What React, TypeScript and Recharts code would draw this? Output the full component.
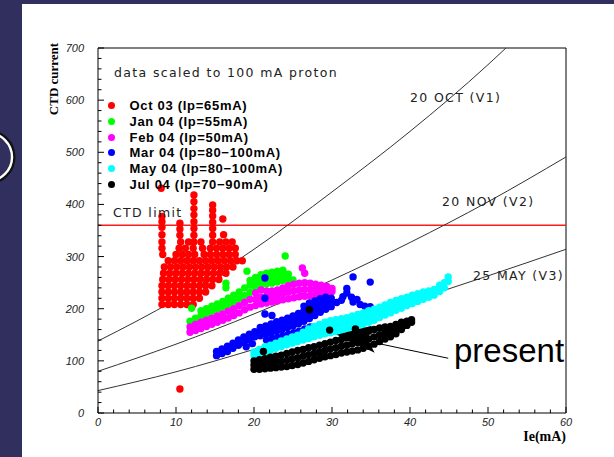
import React from 'react';
import {
  ComposedChart,
  Scatter,
  Line,
  XAxis,
  YAxis,
  ReferenceLine,
  ReferenceDot,
  Legend
} from 'recharts';

// axis ticks (major + minor)
const xTicks = [0, 2, 4, 6, 8, 10, 12, 14, 16, 18, 20, 22, 24, 26, 28, 30, 32, 34, 36, 38, 40, 42, 44, 46, 48, 50, 52, 54, 56, 58, 60];
const yTicks = [0, 20, 40, 60, 80, 100, 120, 140, 160, 180, 200, 220, 240, 260, 280, 300, 320, 340, 360, 380, 400, 420, 440, 460, 480, 500, 520, 540, 560, 580, 600, 620, 640, 660, 680, 700];

// CTD limit, flat across the whole range
const ctdLimit = [{ x: 0, y: 360 }, { x: 60, y: 360 }];

// voltage curves
const v1Curve = [
  { x: 0, y: 138 }, { x: 10, y: 218 }, { x: 20, y: 314 }, { x: 30, y: 424 },
  { x: 40, y: 540 }, { x: 50, y: 668 }, { x: 52.3, y: 700 }
];
const v2Curve = [
  { x: 0, y: 80 }, { x: 10, y: 132 }, { x: 20, y: 190 }, { x: 30, y: 255 },
  { x: 40, y: 327 }, { x: 50, y: 405 }, { x: 60, y: 491 }
];
const v3Curve = [
  { x: 0, y: 43 }, { x: 10, y: 79 }, { x: 20, y: 122 }, { x: 30, y: 168 },
  { x: 40, y: 214 }, { x: 50, y: 263 }, { x: 60, y: 314 }
];

// Oct 03: rows [y, xs]
const oct03Rows: [number, number[]][] = [
  [208, [8.2, 9.0, 9.8, 10.6, 11.4, 12.2]],
  [220, [8.2, 9.0, 9.8, 10.6, 11.4, 12.2, 13.0]],
  [232, [8.2, 9.0, 9.8, 10.6, 11.4, 12.2, 13.0, 13.8]],
  [244, [8.2, 9.0, 9.8, 10.6, 11.4, 12.2, 13.0, 13.8, 14.6]],
  [256, [8.3, 9.1, 9.9, 10.7, 11.5, 12.3, 13.1, 13.9, 14.7, 15.5]],
  [268, [8.4, 9.2, 10.0, 10.8, 11.6, 12.4, 13.2, 14.0, 14.8, 15.6, 16.4]],
  [280, [8.5, 9.3, 10.1, 10.9, 11.7, 12.5, 13.3, 14.1, 14.9, 15.7, 16.5, 17.3]],
  [292, [9.0, 9.8, 10.6, 11.4, 12.2, 13.0, 13.8, 14.6, 15.4, 16.2, 17.0, 17.8, 18.5]],
  [304, [8.3, 10.0, 10.8, 11.6, 12.4, 13.6, 14.4, 15.2, 16.0, 16.8, 17.6]],
  [316, [8.2, 10.4, 11.2, 12.2, 13.4, 14.4, 15.2, 16.0, 16.8, 17.6]],
  [328, [8.2, 10.6, 11.6, 12.3, 13.2, 14.7, 15.6, 16.4, 17.2]]
];
const oct03Spots: [number, number][] = [
  [8.2, 342], [8.2, 356], [8.2, 367], [8.2, 377], [8.1, 431],
  [10.5, 341], [10.5, 353], [10.5, 364],
  [12.3, 341], [12.3, 354], [12.3, 367], [12.3, 380], [12.3, 392], [12.3, 405], [12.3, 418],
  [14.7, 341], [14.7, 354], [14.7, 366], [14.7, 378], [14.7, 389], [14.7, 399],
  [16.0, 372], [16.1, 342], [10.5, 46]
];

// the other runs: columns [x, ys]
const jan04Cols: [number, number[]][] = [
  [11.8, [176]], [12.5, [182]], [13.2, [186, 196]], [13.9, [190, 200]], [14.6, [195, 205]],
  [15.3, [199, 209]], [16, [203, 214]], [16.7, [208, 220]], [17.4, [213, 226]], [18.1, [219, 232]],
  [18.8, [225, 240]], [19.5, [231, 245, 254]], [20.2, [240, 250, 260]], [20.9, [246, 256, 265]],
  [21.6, [248, 258, 268]], [22.3, [249, 260, 270]], [23, [251, 262, 272]], [23.7, [254, 264, 274]],
  [24.4, [256, 266]], [25, [255]]
];
const jan04Spots: [number, number][] = [[12, 201], [16.4, 249], [16.4, 240], [19.1, 272], [24, 301]];

const feb04Cols: [number, number[]][] = [
  [11.8, [155, 165]], [12.5, [158, 170]], [13.2, [162, 174]], [13.9, [166, 178]], [14.6, [170, 182]],
  [15.3, [174, 186]], [16, [178, 190]], [16.7, [182, 195]], [17.4, [187, 200]], [18.1, [192, 206]],
  [18.8, [198, 212]], [19.5, [203, 218]], [20.2, [206, 218, 230]], [20.9, [209, 222, 236]],
  [21.6, [211, 223, 234]], [22.3, [213, 224, 234]], [23, [215, 226, 236]], [23.7, [217, 229, 240]],
  [24.4, [219, 232, 244]], [25.1, [221, 234, 247]], [25.8, [223, 236, 249]], [26.5, [224, 237, 250]],
  [27.2, [225, 237, 249]], [27.9, [227, 237, 247]], [28.6, [229, 237, 245]], [29.3, [231, 237, 243]],
  [30, [233, 239]]
];
const feb04Spots: [number, number][] = [[26.2, 278], [26.5, 268]];

const mar04Cols: [number, number[]][] = [
  [15.2, [110, 118]], [15.9, [114, 123]], [16.6, [118, 128]], [17.3, [124, 134]], [18, [130, 140]],
  [18.7, [135, 146]], [19.4, [140, 151]], [20.1, [146, 156]],
  [20.8, [148, 156, 164]], [21.5, [151, 159, 167]], [22.2, [154, 162, 171]], [22.9, [157, 166, 175]],
  [23.6, [160, 169, 178]], [24.3, [164, 173, 182]], [25, [167, 177, 186]], [25.7, [171, 181, 191]],
  [26.4, [176, 186, 196, 205]], [27.1, [181, 191, 201, 211]], [27.8, [187, 197, 206, 215]],
  [28.5, [193, 203, 211, 219]], [29.2, [199, 208, 215, 222]], [29.9, [204, 212, 220]],
  [21.6, [140]], [22.3, [143]], [23, [145]], [23.7, [148]], [24.4, [151]], [25.1, [154]],
  [25.8, [157]], [26.5, [161]], [27.2, [165]]
];
const mar04Spots: [number, number][] = [
  [19, 127], [19.8, 133], [30.6, 212], [31.2, 216], [31.4, 223], [31.9, 230], [31.9, 239],
  [32.5, 222], [32.7, 213], [33.2, 218], [33.6, 208], [34.2, 205], [34.9, 204], [35.2, 198],
  [32.7, 261], [34.9, 251], [21.4, 259], [21.4, 220], [21.4, 190], [22.3, 187]
];

const may04Cols: [number, number[]][] = [
  [20, [110, 117]], [20.7, [113, 122]], [21.4, [117, 127]], [22.1, [120, 130]], [22.8, [124, 134]],
  [23.5, [127, 138]], [24.2, [131, 142]], [24.9, [134, 146]], [25.6, [137, 149]],
  [26.3, [140, 147, 155]], [27, [143, 152, 161]], [27.7, [146, 156, 166]], [28.4, [149, 159, 170]],
  [29.1, [152, 163, 174]], [29.8, [154, 166, 177]], [30.5, [156, 168, 179]], [31.2, [158, 170, 181]],
  [31.9, [161, 172, 183]], [32.6, [164, 175, 186]], [33.3, [167, 178, 189]], [34, [170, 181, 192]],
  [34.7, [174, 185, 196]], [35.4, [178, 189, 199]], [36.1, [183, 193, 203]], [36.8, [188, 198, 207]],
  [37.5, [192, 202, 212]], [38.2, [197, 207, 216]], [38.9, [201, 210, 219]], [39.6, [206, 214, 222]],
  [40.3, [210, 218, 226]], [41, [214, 222, 229]], [41.7, [218, 225, 232]], [42.4, [222, 228, 234]],
  [43.1, [226, 231, 237]], [43.8, [233, 240, 245]], [44.4, [240, 250]], [44.9, [252, 261]]
];

const jul04Cols: [number, number[]][] = [
  [20, [84, 92, 100]], [20.7, [84, 93, 102]], [21.4, [85, 95, 104]], [22.1, [86, 96, 107]],
  [22.8, [87, 98, 109]], [23.5, [88, 99, 111]], [24.2, [89, 101, 114]], [24.9, [91, 104, 117]],
  [25.6, [93, 106, 120]], [26.3, [96, 109, 122]], [27, [99, 112, 125]], [27.7, [102, 114, 127]],
  [28.4, [105, 117, 130]], [29.1, [108, 120, 133]], [29.8, [110, 123, 136]], [30.5, [112, 125, 139]],
  [31.2, [115, 128, 141]], [31.9, [117, 130, 144]], [32.6, [119, 133, 147]], [33.3, [121, 135, 150]],
  [34, [124, 138, 153]], [34.7, [128, 142, 157]], [35.4, [132, 146, 160]], [36.1, [137, 150, 163]],
  [36.8, [142, 154, 165]], [37.5, [146, 156, 166]], [38.2, [152, 162, 170]], [38.9, [160, 168, 174]],
  [39.6, [168, 176]], [40.2, [174, 179]]
];
const jul04Spots: [number, number][] = [[27.1, 198], [29.7, 159], [33, 161], [21.2, 118]];

const seriesNames = [
  'Oct 03 (Ip=65mA)', 'Jan 04 (Ip=55mA)', 'Feb 04 (Ip=50mA)',
  'Mar 04 (Ip=80\u2212100mA)', 'May 04 (Ip=80\u2212100mA)', 'Jul 04 (Ip=70\u221290mA)'
];
const seriesColors = ['#ff0000', '#00ff00', '#ff00ff', '#0000ff', '#00ffff', '#000000'];

const fromCols = (cols: [number, number[]][], spots: [number, number][] = []) => [
  ...cols.flatMap(([x, ys]) => ys.map((y) => ({ x, y }))),
  ...spots.map(([x, y]) => ({ x, y }))
];
const fromRows = (rows: [number, number[]][], spots: [number, number][] = []) => [
  ...rows.flatMap(([y, xs]) => xs.map((x) => ({ x, y }))),
  ...spots.map(([x, y]) => ({ x, y }))
];

const seriesData = [
  fromRows(oct03Rows, oct03Spots),
  fromCols(jan04Cols, jan04Spots),
  fromCols(feb04Cols, feb04Spots),
  fromCols(mar04Cols, mar04Spots),
  fromCols(may04Cols),
  fromCols(jul04Cols, jul04Spots)
];

const NAVY = '#302f5e';
const annoFont = '"DejaVu Sans", sans-serif';

const dot = (color: string) => (p: any) => <circle cx={p.cx} cy={p.cy} r={3.7} fill={color} />;

const YTick = (props: any) => {
  const { x, y, payload } = props;
  const major = payload.value % 100 === 0;
  return (
    <g>
      <line x1={x} x2={x + (major ? 6 : 3.5)} y1={y} y2={y} stroke="#000" />
      {major && (
        <text x={x - 14} y={y + 4} textAnchor="end" fontSize={11} fontStyle="italic"
          fontFamily='"Liberation Sans", Arial, sans-serif' fill="#222">
          {payload.value}
        </text>
      )}
    </g>
  );
};

const XTick = (props: any) => {
  const { x, y, payload } = props;
  const major = payload.value % 10 === 0;
  return (
    <g>
      <line x1={x} x2={x} y1={y} y2={y - (major ? 6 : 3.5)} stroke="#000" />
      {major && (
        <text x={x} y={y + 13} textAnchor="middle" fontSize={11} fontStyle="italic"
          fontFamily='"Liberation Sans", Arial, sans-serif' fill="#222">
          {payload.value}
        </text>
      )}
    </g>
  );
};

const arrowHead = (p: any) => (
  <polygon
    points={`${p.cx},${p.cy} ${p.cx + 35},${p.cy - 9} ${p.cx + 31},${p.cy + 5} ${p.cx + 38},${p.cy + 18}`}
    fill="#000"
  />
);

const renderLegend = () => (
  <div style={{ fontFamily: '"Liberation Sans", Arial, sans-serif', fontWeight: 700, fontSize: 13, letterSpacing: 0.7 }}>
    {seriesNames.map((name, i) => (
      <div key={name} style={{ display: 'flex', alignItems: 'center', height: 15.7, whiteSpace: 'nowrap' }}>
        <span style={{ display: 'inline-block', width: 7, height: 7, borderRadius: '50%', background: seriesColors[i], marginLeft: 1.5, marginRight: 14.5 }} />
        <span>{name}</span>
      </div>
    ))}
  </div>
);

export default function App() {
  return (
    <div style={{ position: 'absolute', left: 0, top: 0, width: 614, height: 457, background: NAVY, overflow: 'hidden' }}>
      <div style={{ position: 'absolute', left: 22, top: 4, width: 592, height: 453, background: '#fff' }} />
      <svg width={30} height={457} style={{ position: 'absolute', left: 0, top: 0 }}>
        <circle cx={-12} cy={157} r={25} fill="none" stroke="#111" strokeWidth={5} />
        <circle cx={-12} cy={157} r={24} fill="none" stroke="#fff" strokeWidth={2.5} />
      </svg>
      <div style={{ position: 'absolute', left: 0, top: 0 }}>
        <ComposedChart width={614} height={457} margin={{ top: 48, right: 48, bottom: 14, left: 58 }}>
          <XAxis type="number" dataKey="x" domain={[0, 60]} ticks={xTicks} interval={0}
            allowDataOverflow tickSize={0} tickMargin={0} height={30}
            axisLine={{ stroke: '#000' }} tick={<XTick />} />
          <YAxis type="number" dataKey="y" domain={[0, 700]} ticks={yTicks} interval={0}
            allowDataOverflow tickSize={0} tickMargin={0} width={40}
            axisLine={{ stroke: '#000' }} tick={<YTick />} />
          <ReferenceLine x={60} stroke="#000" />
          <ReferenceLine y={700} stroke="#000" />
          <Line data={ctdLimit} dataKey="y" type="linear" stroke="#ff1a1a" strokeWidth={1.4} dot={false}
            legendType="none" isAnimationActive={false} />
          <Line data={v1Curve} dataKey="y" type="monotone" stroke="#333" strokeWidth={1} dot={false}
            legendType="none" isAnimationActive={false} />
          <Line data={v2Curve} dataKey="y" type="monotone" stroke="#333" strokeWidth={1} dot={false}
            legendType="none" isAnimationActive={false} />
          <Line data={v3Curve} dataKey="y" type="monotone" stroke="#333" strokeWidth={1} dot={false}
            legendType="none" isAnimationActive={false} />
          {seriesData.map((d, i) => (
            <Scatter key={seriesNames[i]} name={seriesNames[i]} data={d} fill={seriesColors[i]}
              shape={dot(seriesColors[i])} isAnimationActive={false} />
          ))}
          <ReferenceLine segment={[{ x: 35.7, y: 134 }, { x: 44.9, y: 105 }]} stroke="#000" />
          <ReferenceDot x={30.6} y={150} r={0} shape={arrowHead} />
          <Legend layout="vertical" align="center" verticalAlign="middle" content={renderLegend}
            wrapperStyle={{ left: 106.5, top: 98, width: 230, height: 95 }} />
        </ComposedChart>
      </div>
      <svg width={614} height={457} style={{ position: 'absolute', left: 0, top: 0, pointerEvents: 'none' }}>
        <g fontFamily={annoFont} fontSize={12.5} fill="#222" letterSpacing={1.35}>
          <text x={114} y={77}>data scaled to 100 mA proton</text>
          <text x={410} y={101.5}>20 OCT (V1)</text>
          <text x={442} y={206}>20 NOV (V2)</text>
          <text x={473} y={279.5}>25 MAY (V3)</text>
          <text x={113} y={216.5}>CTD limit</text>
        </g>
        <text x={454} y={362} fontFamily='"Liberation Sans", Arial, sans-serif' fontSize={33} fill="#000">present</text>
        <text x={566} y={441} textAnchor="end" fontFamily='"Liberation Serif", serif' fontWeight={700} fontSize={14} fill="#000">Ie(mA)</text>
        <text x={57.5} y={79} transform="rotate(-90 57.5 79)" textAnchor="middle" fontFamily='"Liberation Serif", serif'
          fontWeight={700} fontSize={13} fill="#000">CTD current</text>
      </svg>
    </div>
  );
}
